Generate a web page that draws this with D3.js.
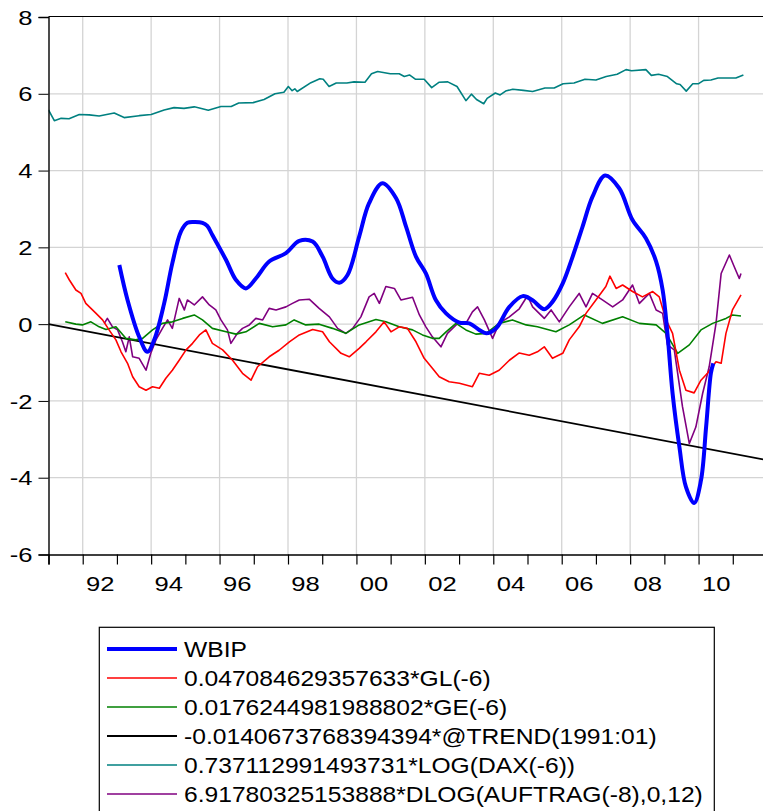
<!DOCTYPE html>
<html>
<head>
<meta charset="utf-8">
<script src="https://cdn.jsdelivr.net/npm/d3@7/dist/d3.min.js"></script>
<style>
  body { margin: 0; background: #fff; }
  svg { display: block; font-family: "Liberation Sans", Arial, sans-serif; }
</style>
</head>
<body>
<div id="chart"></div>
<script>
// Series: [decimal year, value]
const wbip = [[1993.07,1.54],[1993.31,0.63],[1993.65,-0.33],[1993.89,-0.72],[1994.09,-0.41],[1994.38,0.54],[1994.62,1.59],[1994.87,2.41],[1995.06,2.64],[1995.29,2.66],[1995.5,2.64],[1995.64,2.56],[1995.79,2.32],[1996.19,1.67],[1996.48,1.15],[1996.77,0.93],[1997.06,1.19],[1997.45,1.63],[1997.94,1.85],[1998.33,2.17],[1998.72,2.15],[1999.01,1.76],[1999.3,1.19],[1999.5,1.08],[1999.74,1.28],[2000.08,2.28],[2000.37,3.15],[2000.76,3.67],[2001.16,3.28],[2001.45,2.54],[2001.74,1.76],[2002.03,1.32],[2002.32,0.63],[2002.62,0.28],[2003.01,0.04],[2003.3,0.02],[2003.59,-0.15],[2003.79,-0.24],[2004.08,-0.11],[2004.47,0.45],[2004.86,0.73],[2005.15,0.62],[2005.49,0.39],[2005.73,0.58],[2006.03,1.06],[2006.32,1.76],[2006.61,2.54],[2006.9,3.32],[2007.27,3.87],[2007.68,3.54],[2008.07,2.71],[2008.46,2.24],[2008.76,1.63],[2008.95,0.89],[2009.09,-0.24],[2009.24,-1.8],[2009.44,-3.2],[2009.63,-4.24],[2009.87,-4.66],[2010.07,-4.07],[2010.22,-2.68],[2010.36,-1.28],[2010.43,-1.02]];

const gl = [[1991.49,1.34],[1991.61,1.15],[1991.8,0.89],[1991.95,0.8],[1992.09,0.54],[1992.24,0.41],[1992.39,0.28],[1992.58,0.11],[1992.77,-0.15],[1992.97,-0.41],[1993.12,-0.72],[1993.31,-1.02],[1993.46,-1.37],[1993.65,-1.63],[1993.85,-1.72],[1994.04,-1.63],[1994.24,-1.67],[1994.43,-1.41],[1994.62,-1.2],[1994.82,-0.94],[1995.02,-0.67],[1995.21,-0.5],[1995.41,-0.28],[1995.6,-0.15],[1995.79,-0.5],[1996.09,-0.67],[1996.38,-0.94],[1996.67,-1.28],[1996.92,-1.46],[1997.11,-1.11],[1997.45,-0.85],[1997.74,-0.68],[1998.04,-0.46],[1998.33,-0.28],[1998.72,-0.14],[1999.01,-0.2],[1999.21,-0.46],[1999.55,-0.76],[1999.79,-0.85],[2000.08,-0.63],[2000.28,-0.46],[2000.57,-0.2],[2000.81,0.06],[2001.01,-0.2],[2001.25,-0.07],[2001.49,-0.11],[2001.74,-0.46],[2001.98,-0.89],[2002.22,-1.15],[2002.42,-1.37],[2002.71,-1.5],[2003.01,-1.54],[2003.39,-1.63],[2003.59,-1.28],[2003.88,-1.33],[2004.17,-1.2],[2004.47,-0.94],[2004.76,-0.75],[2005.05,-0.81],[2005.29,-0.72],[2005.49,-0.59],[2005.73,-0.89],[2006.03,-0.76],[2006.22,-0.41],[2006.51,-0.07],[2006.71,0.28],[2007.0,0.63],[2007.29,0.98],[2007.41,1.25],[2007.59,0.93],[2007.78,1.02],[2008.07,0.85],[2008.36,0.71],[2008.66,0.85],[2008.85,0.71],[2009.05,0.11],[2009.24,-0.24],[2009.44,-1.2],[2009.63,-1.72],[2009.87,-1.79],[2010.07,-1.46],[2010.26,-1.28],[2010.51,-0.98],[2010.66,-1.02],[2010.8,-0.24],[2010.99,0.37],[2011.24,0.76]];

const ge = [[1991.49,0.06],[1991.8,0.0],[1991.99,-0.02],[1992.24,0.06],[1992.48,-0.07],[1992.68,-0.14],[1992.97,-0.07],[1993.26,-0.37],[1993.55,-0.41],[1993.75,-0.37],[1994.04,-0.15],[1994.33,0.02],[1994.62,0.06],[1994.92,0.15],[1995.26,0.24],[1995.5,0.11],[1995.79,-0.11],[1996.19,-0.2],[1996.48,-0.26],[1996.77,-0.2],[1997.16,0.02],[1997.55,-0.07],[1997.94,-0.02],[1998.18,0.11],[1998.52,-0.02],[1998.91,0.0],[1999.3,-0.11],[1999.69,-0.24],[2000.08,-0.02],[2000.57,0.12],[2000.86,0.06],[2001.25,-0.07],[2001.64,-0.15],[2001.93,-0.28],[2002.22,-0.37],[2002.42,-0.37],[2002.62,-0.2],[2002.91,0.02],[2003.2,-0.15],[2003.49,-0.26],[2003.79,-0.24],[2004.17,0.02],[2004.56,0.11],[2004.96,-0.02],[2005.29,-0.07],[2005.83,-0.2],[2006.22,-0.02],[2006.66,0.24],[2007.19,0.02],[2007.78,0.19],[2008.27,0.02],[2008.76,-0.02],[2009.05,-0.24],[2009.39,-0.76],[2009.73,-0.54],[2010.07,-0.15],[2010.41,0.02],[2010.8,0.15],[2010.99,0.24],[2011.24,0.21]];

const trend = [[1991.0,0.0],[2012.0,-3.54]];

const dax = [[1991.0,5.58],[1991.17,5.3],[1991.37,5.36],[1991.6,5.35],[1991.9,5.46],[1992.19,5.45],[1992.48,5.42],[1992.92,5.5],[1993.21,5.38],[1993.65,5.43],[1994.0,5.46],[1994.38,5.58],[1994.67,5.64],[1994.96,5.62],[1995.26,5.66],[1995.41,5.63],[1995.67,5.57],[1996.04,5.67],[1996.34,5.67],[1996.56,5.76],[1996.98,5.77],[1997.3,5.85],[1997.62,6.0],[1997.88,6.04],[1998.01,6.19],[1998.12,6.08],[1998.2,6.13],[1998.27,6.06],[1998.67,6.29],[1998.93,6.39],[1999.03,6.38],[1999.2,6.19],[1999.41,6.28],[1999.72,6.28],[1999.93,6.31],[2000.25,6.3],[2000.44,6.52],[2000.62,6.58],[2000.99,6.52],[2001.25,6.52],[2001.4,6.45],[2001.55,6.49],[2001.72,6.38],[2001.98,6.38],[2002.2,6.16],[2002.41,6.3],[2002.67,6.31],[2002.94,6.19],[2003.2,5.82],[2003.36,5.99],[2003.51,5.85],[2003.72,5.74],[2003.82,5.88],[2004.06,6.02],[2004.2,5.97],[2004.36,6.07],[2004.57,6.12],[2004.88,6.09],[2005.15,6.06],[2005.51,6.15],[2005.78,6.15],[2006.04,6.26],[2006.36,6.28],[2006.68,6.38],[2007.0,6.36],[2007.3,6.45],[2007.62,6.51],[2007.88,6.63],[2008.04,6.6],[2008.46,6.63],[2008.62,6.48],[2008.83,6.51],[2009.09,6.45],[2009.36,6.26],[2009.46,6.24],[2009.64,6.07],[2009.83,6.26],[2009.99,6.26],[2010.15,6.35],[2010.36,6.36],[2010.57,6.41],[2010.78,6.41],[2011.09,6.41],[2011.31,6.49]];

const auftrag = [[1992.63,0.02],[1992.72,0.15],[1992.87,-0.07],[1993.02,-0.15],[1993.16,-0.46],[1993.26,-0.72],[1993.36,-0.33],[1993.46,-0.85],[1993.65,-0.89],[1993.85,-1.2],[1993.99,-0.76],[1994.14,-0.41],[1994.33,-0.11],[1994.48,0.11],[1994.62,-0.11],[1994.82,0.67],[1994.97,0.37],[1995.06,0.63],[1995.26,0.5],[1995.5,0.71],[1995.7,0.5],[1995.89,0.37],[1996.04,0.11],[1996.23,-0.15],[1996.33,-0.5],[1996.52,-0.24],[1996.67,-0.11],[1996.87,-0.02],[1997.06,0.15],[1997.26,0.11],[1997.45,0.41],[1997.65,0.37],[1997.94,0.45],[1998.13,0.54],[1998.33,0.63],[1998.62,0.65],[1998.91,0.41],[1999.21,0.19],[1999.45,-0.11],[1999.69,-0.24],[1999.89,-0.11],[2000.13,0.19],[2000.37,0.71],[2000.52,0.8],[2000.67,0.54],[2000.86,0.98],[2001.11,0.93],[2001.3,0.63],[2001.64,0.7],[2001.84,0.24],[2002.03,-0.07],[2002.22,-0.33],[2002.47,-0.59],[2002.66,-0.24],[2002.96,0.02],[2003.2,0.02],[2003.39,0.32],[2003.54,0.45],[2003.74,0.11],[2003.98,-0.37],[2004.17,0.02],[2004.47,0.19],[2004.76,0.4],[2005.0,0.74],[2005.15,0.45],[2005.49,0.15],[2005.69,0.37],[2005.93,0.06],[2006.22,0.45],[2006.51,0.8],[2006.71,0.45],[2006.9,0.8],[2007.19,0.63],[2007.49,0.45],[2007.78,0.63],[2008.07,1.02],[2008.27,0.54],[2008.56,0.8],[2008.76,0.37],[2008.95,0.28],[2009.09,-0.54],[2009.29,-0.67],[2009.53,-2.15],[2009.73,-3.11],[2009.92,-2.68],[2010.12,-1.8],[2010.31,-1.11],[2010.51,0.02],[2010.66,1.32],[2010.9,1.8],[2011.04,1.5],[2011.19,1.19],[2011.24,1.32]];

const seriesNames = [
  "WBIP",
  "0.047084629357633*GL(-6)",
  "0.0176244981988802*GE(-6)",
  "-0.0140673768394394*@TREND(1991:01)",
  "0.737112991493731*LOG(DAX(-6))",
  "6.91780325153888*DLOG(AUFTRAG(-8),0,12)"
];
const yTicks = [-6, -4, -2, 0, 2, 4, 6, 8];
const yearTicks = d3.range(1991, 2012);
const gridYears = d3.range(1992, 2011, 2);

const series = [
  { data: wbip, color: "#0000ff", width: 4, smooth: true },
  { data: gl, color: "#ff0000", width: 1.6 },
  { data: ge, color: "#008000", width: 1.6 },
  { data: trend, color: "#000000", width: 1.8 },
  { data: dax, color: "#008080", width: 1.6 },
  { data: auftrag, color: "#800080", width: 1.6 }
];

const W = 763, H = 811;
const plotLeft = 48.5, plotTop = 17, plotBottom = 554.5, plotRight = 767;

const svg = d3.select("#chart").append("svg")
  .attr("width", W).attr("height", H);

const x = d3.scaleLinear().domain([1991, 2012]).range([plotLeft, plotRight]);
const y = d3.scaleLinear().domain([-6, 8]).range([plotBottom, plotTop]);

// grid
svg.append("g").selectAll("line").data(gridYears).enter().append("line")
  .attr("x1", d => x(d)).attr("x2", d => x(d))
  .attr("y1", plotTop).attr("y2", plotBottom)
  .attr("stroke", "#d4d4d4").attr("stroke-width", 1.3);
svg.append("g").selectAll("line").data(yTicks.slice(1, -1)).enter().append("line")
  .attr("x1", plotLeft).attr("x2", plotRight)
  .attr("y1", d => y(d)).attr("y2", d => y(d))
  .attr("stroke", "#d4d4d4").attr("stroke-width", 1.3);

// lines
svg.append("clipPath").attr("id", "clip").append("rect")
  .attr("x", plotLeft).attr("y", plotTop)
  .attr("width", plotRight - plotLeft).attr("height", plotBottom - plotTop);

const plot = svg.append("g").attr("clip-path", "url(#clip)");
series.slice().reverse().forEach(s => {
  const line = d3.line().x(d => x(d[0])).y(d => y(d[1]))
    .curve(s.smooth ? d3.curveCatmullRom.alpha(0.5) : d3.curveLinear);
  plot.append("path").datum(s.data)
    .attr("d", line)
    .attr("fill", "none")
    .attr("stroke", s.color)
    .attr("stroke-width", s.width)
    .attr("stroke-linejoin", "round");
});

// frame top
svg.append("line").attr("x1", plotLeft).attr("x2", plotRight)
  .attr("y1", plotTop - 0.5).attr("y2", plotTop - 0.5)
  .attr("stroke", "#000").attr("stroke-width", 1.2);

const sx = 1.28;

// left axis
const yAxis = svg.append("g").attr("transform", `translate(${plotLeft},0)`)
  .call(d3.axisLeft(y).tickValues(yTicks).tickSize(10).tickPadding(0).tickFormat(d3.format("d")));
yAxis.select(".domain").attr("stroke", "#000").attr("stroke-width", 1.4);
yAxis.selectAll(".tick line").attr("stroke", "#000").attr("stroke-width", 1);
yAxis.selectAll(".tick text")
  .attr("font-size", 20).attr("font-family", "Liberation Sans, Arial, sans-serif")
  .attr("fill", "#000").attr("x", -16 / sx).attr("dy", "0.36em")
  .attr("transform", `scale(${sx},1)`)
  .text(d => d < 0 ? "-" + Math.abs(d) : d);

// bottom axis: ticks every year
const xAxis = svg.append("g").attr("transform", `translate(0,${plotBottom})`)
  .call(d3.axisBottom(x).tickValues(yearTicks).tickSize(10).tickFormat(""));
xAxis.select(".domain").attr("stroke", "#000").attr("stroke-width", 1.6);
xAxis.selectAll(".tick line").attr("stroke", "#000").attr("stroke-width", 1.2);

// labels centred on the even years
const xLab = svg.append("g").attr("transform", `translate(0,${plotBottom})`)
  .call(d3.axisBottom(x).tickValues(gridYears.map(d => d + 0.5)).tickSize(0)
    .tickFormat(d => String(Math.floor(d) % 100).padStart(2, "0")));
xLab.select(".domain").remove();
xLab.selectAll(".tick").each(function () {
  const t = d3.select(this);
  const tx = +t.attr("transform").match(/translate\(([-\d.]+)/)[1];
  t.attr("transform", `translate(${tx},0) scale(${sx},1)`);
});
xLab.selectAll(".tick text")
  .attr("font-size", 20).attr("font-family", "Liberation Sans, Arial, sans-serif")
  .attr("fill", "#000").attr("y", 37).attr("dy", 0);

// legend
const lg = svg.append("g");
lg.append("rect").attr("x", 99.3).attr("y", 627.3).attr("width", 615).attr("height", 200)
  .attr("fill", "#fff").attr("stroke", "#000").attr("stroke-width", 1.2);
seriesNames.forEach((name, i) => {
  const cy = 649 + i * 29;
  lg.append("line").attr("x1", 107).attr("x2", 177).attr("y1", cy).attr("y2", cy)
    .attr("stroke", series[i].color).attr("stroke-width", series[i].width);
  lg.append("text")
    .attr("transform", `translate(184,${cy + 8}) scale(1.12,1)`)
    .attr("font-size", 22).attr("fill", "#000")
    .text(name);
});
</script>
</body>
</html>
